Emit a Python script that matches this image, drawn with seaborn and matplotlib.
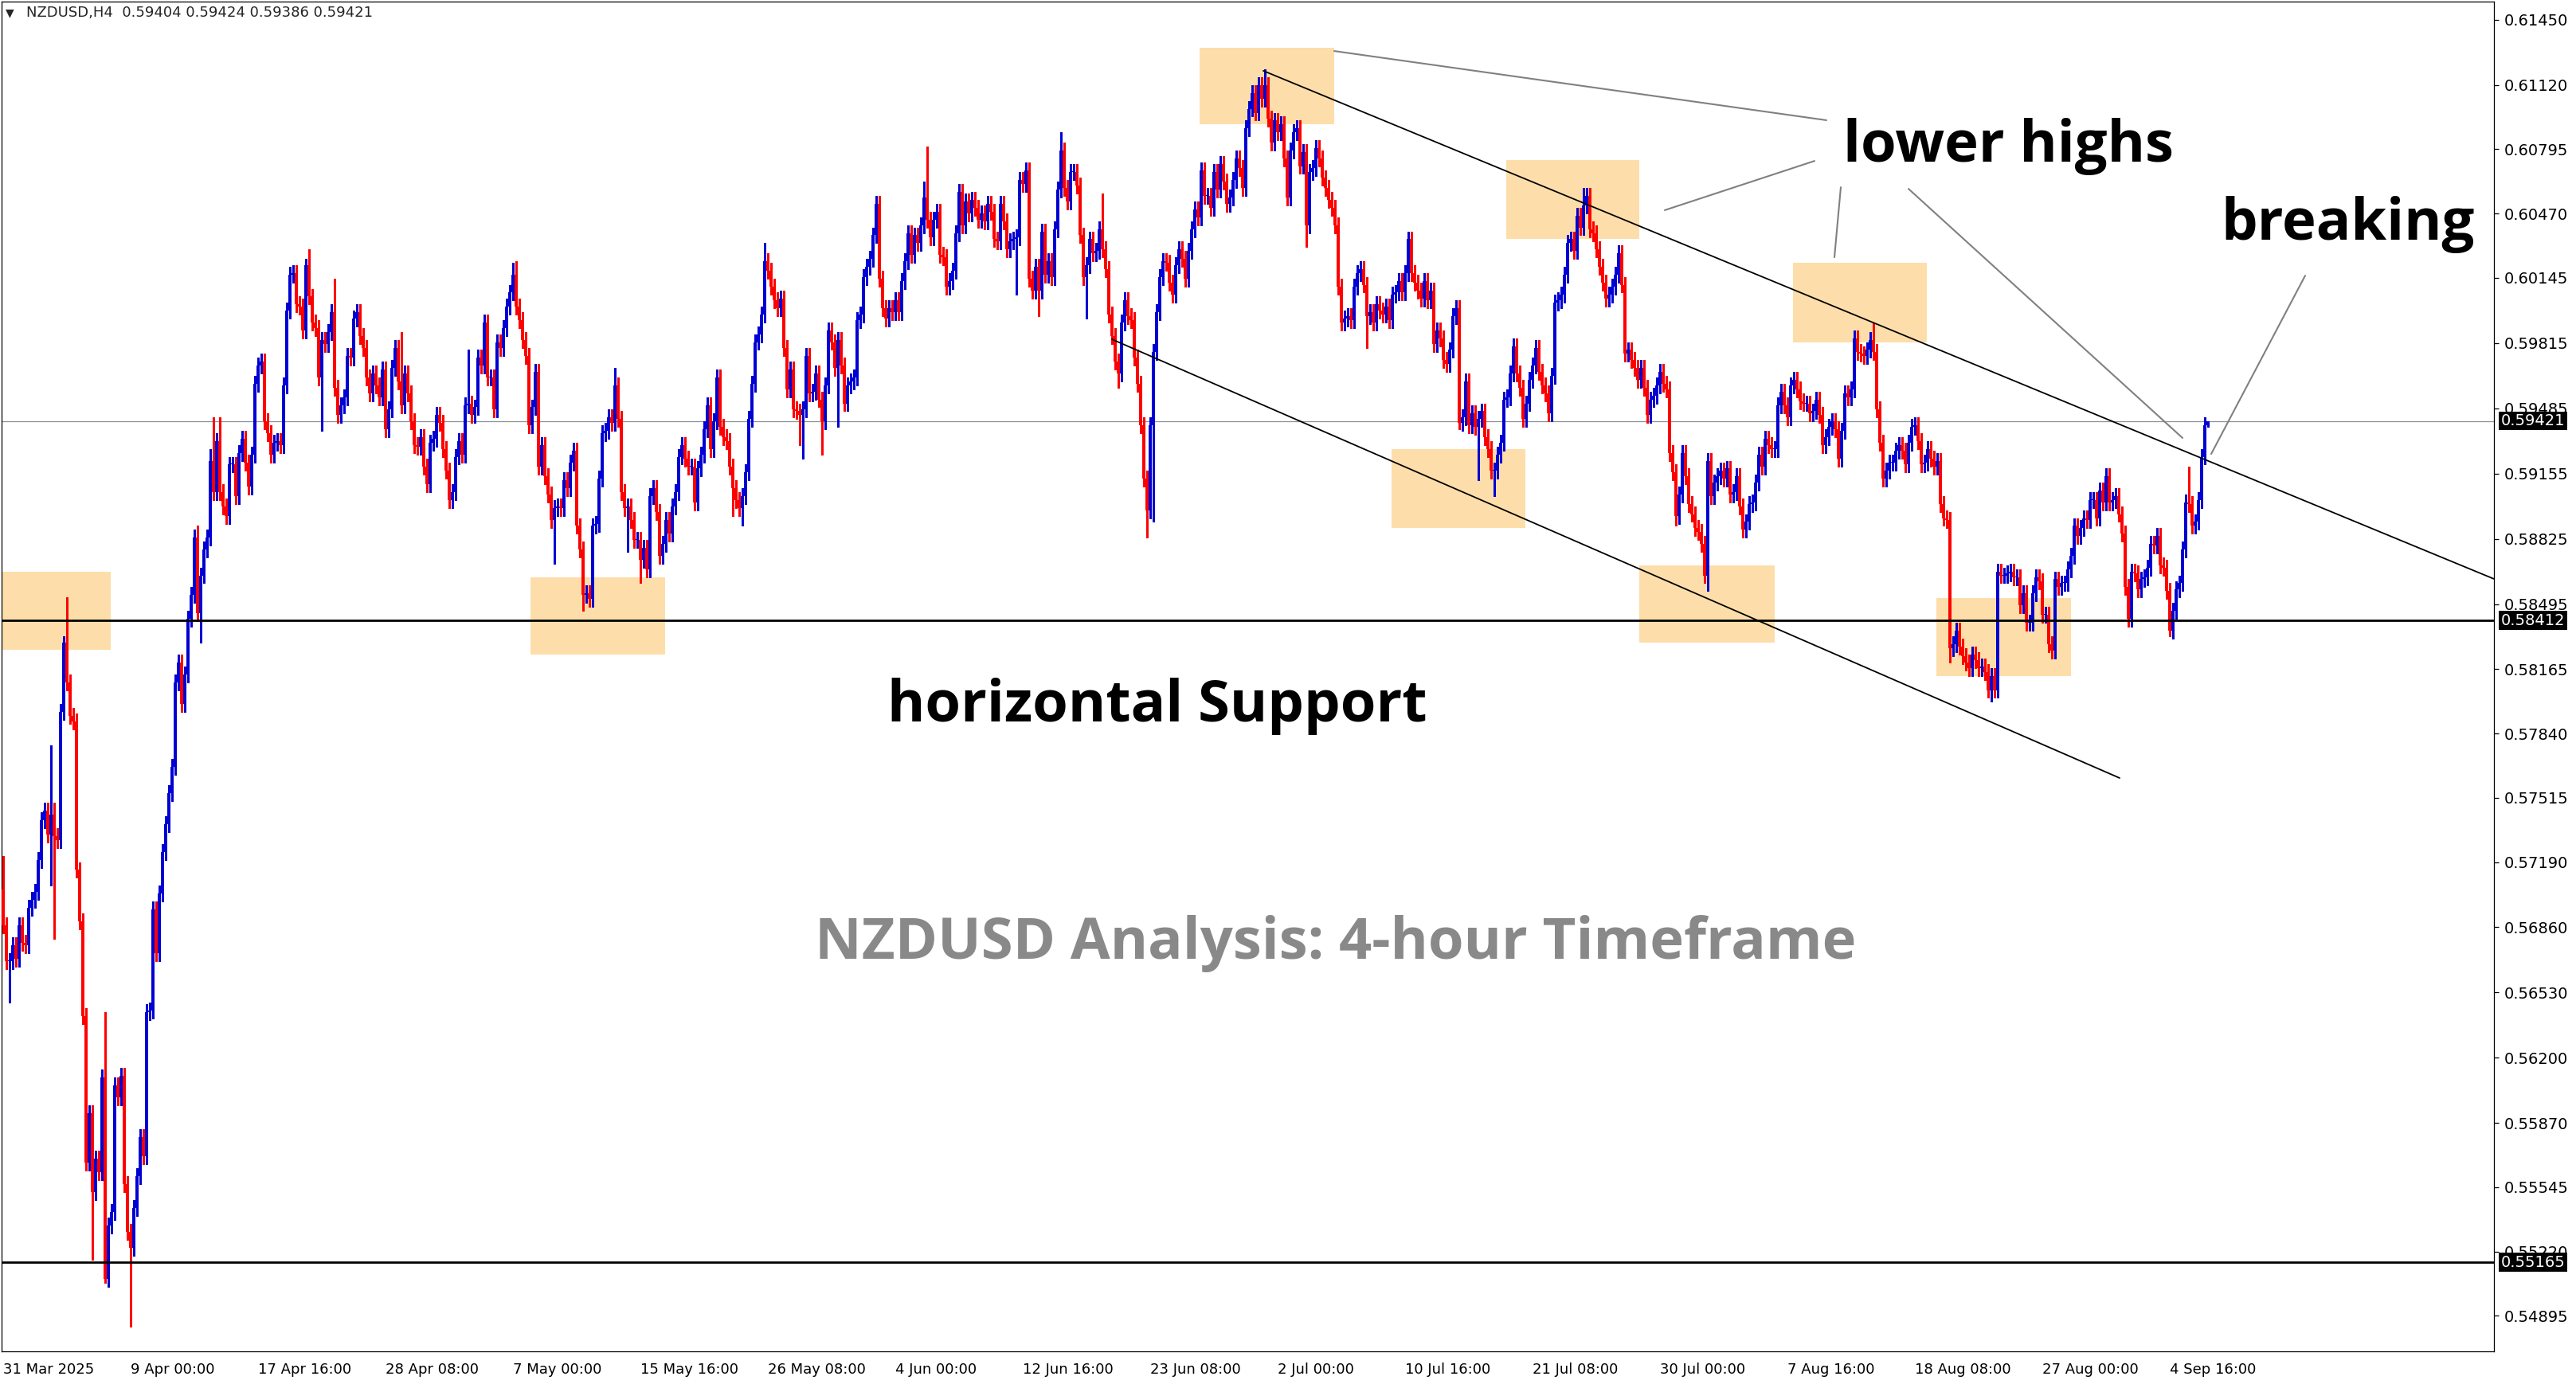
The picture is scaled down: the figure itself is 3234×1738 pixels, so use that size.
import numpy as np
import pandas as pd
import matplotlib
matplotlib.use("Agg")
from matplotlib import pyplot as plt
from matplotlib import transforms
import seaborn as sns

# NZDUSD H4 closes, in pips (0.0001), one per 4-hour bar
first_open = 5705
closes = [
    5687, 5669, 5669, 5677, 5670, 5687, 5678, 5677, 5696, 5700, 5704, 5720, 5740, 5745, 5733, 5743, 5732, 5730, 5795, 5830,
    5810, 5793, 5790, 5715, 5689, 5641, 5567, 5592, 5552, 5569, 5562, 5610, 5508, 5535, 5542, 5606, 5600, 5611, 5556, 5532,
    5524, 5544, 5560, 5580, 5570, 5643, 5644, 5695, 5673, 5703, 5724, 5738, 5754, 5767, 5810, 5820, 5799, 5814, 5842, 5854,
    5883, 5845, 5864, 5877, 5883, 5922, 5906, 5932, 5906, 5899, 5894, 5920, 5920, 5904, 5926, 5933, 5921, 5909, 5925, 5961,
    5970, 5972, 5942, 5936, 5925, 5931, 5932, 5930, 5960, 5998, 6016, 6017, 6001, 6000, 5988, 6021, 6005, 5992, 5989, 5964,
    5983, 5981, 5987, 5997, 5959, 5945, 5950, 5954, 5975, 5974, 5994, 5997, 5985, 5979, 5964, 5956, 5966, 5960, 5954, 5968,
    5938, 5948, 5969, 5979, 5962, 5950, 5966, 5956, 5942, 5930, 5929, 5934, 5919, 5910, 5931, 5933, 5945, 5941, 5928, 5917,
    5902, 5906, 5924, 5932, 5925, 5950, 5951, 5945, 5949, 5974, 5970, 5992, 5964, 5964, 5948, 5982, 5979, 5989, 6000, 6007,
    6016, 6000, 5993, 5983, 5975, 5940, 5949, 5967, 5919, 5930, 5914, 5905, 5892, 5898, 5899, 5898, 5912, 5908, 5921, 5927,
    5889, 5877, 5854, 5855, 5852, 5889, 5890, 5913, 5936, 5937, 5944, 5941, 5960, 5943, 5906, 5898, 5899, 5892, 5882, 5882,
    5872, 5878, 5867, 5904, 5908, 5896, 5874, 5880, 5892, 5885, 5899, 5906, 5924, 5930, 5923, 5919, 5919, 5901, 5918, 5925,
    5938, 5950, 5928, 5942, 5964, 5939, 5934, 5932, 5919, 5908, 5902, 5898, 5904, 5916, 5943, 5961, 5982, 5986, 5996, 6023,
    6018, 6010, 6003, 5999, 6004, 5979, 5958, 5968, 5948, 5947, 5945, 5948, 5975, 5956, 5957, 5966, 5953, 5942, 5960, 5988,
    5982, 5969, 5983, 5970, 5951, 5960, 5962, 5964, 5993, 5996, 6015, 6020, 6024, 6036, 6052, 6014, 5999, 5994, 5999, 5997,
    6003, 5997, 6013, 6023, 6037, 6026, 6036, 6032, 6041, 6055, 6044, 6035, 6044, 6048, 6026, 6025, 6010, 6013, 6018, 6037,
    6058, 6041, 6053, 6047, 6054, 6050, 6044, 6047, 6043, 6052, 6048, 6034, 6033, 6052, 6043, 6029, 6033, 6034, 6035, 6064,
    6062, 6069, 6014, 6008, 6020, 6008, 6038, 6016, 6023, 6015, 6039, 6059, 6079, 6060, 6053, 6068, 6068, 6061, 6036, 6015,
    6021, 6034, 6027, 6028, 6039, 6029, 6019, 5996, 5985, 5972, 5966, 5992, 6003, 5995, 5993, 5974, 5961, 5940, 5913, 5897,
    5940, 5977, 5997, 6015, 6023, 6022, 6012, 6006, 6021, 6029, 6024, 6014, 6028, 6039, 6049, 6045, 6069, 6056, 6056, 6050,
    6068, 6059, 6072, 6063, 6052, 6055, 6064, 6075, 6070, 6060, 6090, 6100, 6108, 6098, 6112, 6105, 6112, 6095, 6083, 6094,
    6088, 6092, 6075, 6055, 6079, 6088, 6090, 6071, 6078, 6041, 6068, 6070, 6080, 6075, 6065, 6060, 6054, 6050, 6041, 6010,
    5992, 5994, 5995, 5993, 6010, 6017, 6019, 6011, 5995, 5997, 5992, 6001, 5998, 5996, 6000, 5993, 6006, 6007, 6013, 6007,
    6017, 6034, 6017, 6012, 6008, 6004, 6013, 6003, 6008, 5981, 5988, 5984, 5973, 5971, 5978, 5995, 5999, 5941, 5944, 5962,
    5940, 5946, 5939, 5943, 5947, 5934, 5928, 5917, 5917, 5925, 5931, 5953, 5954, 5966, 5980, 5966, 5959, 5943, 5951, 5963,
    5970, 5979, 5967, 5960, 5956, 5946, 5965, 6002, 6003, 6006, 6016, 6032, 6034, 6028, 6046, 6040, 6051, 6056, 6039, 6037,
    6029, 6020, 6012, 6004, 6006, 6010, 6016, 6027, 6011, 5976, 5978, 5973, 5969, 5963, 5969, 5959, 5945, 5953, 5955, 5960,
    5967, 5961, 5958, 5926, 5916, 5894, 5905, 5926, 5914, 5900, 5895, 5888, 5886, 5880, 5864, 5922, 5904, 5911, 5914, 5917,
    5913, 5918, 5905, 5906, 5914, 5899, 5887, 5891, 5900, 5901, 5911, 5925, 5919, 5933, 5930, 5928, 5928, 5950, 5957, 5950,
    5944, 5960, 5963, 5958, 5952, 5951, 5951, 5946, 5947, 5953, 5945, 5930, 5934, 5939, 5942, 5938, 5923, 5937, 5956, 5954,
    5958, 5984, 5977, 5976, 5975, 5978, 5983, 5977, 5948, 5931, 5913, 5917, 5921, 5921, 5927, 5930, 5927, 5920, 5931, 5939,
    5940, 5932, 5920, 5921, 5928, 5923, 5919, 5922, 5900, 5893, 5892, 5827, 5829, 5836, 5828, 5823, 5820, 5817, 5824, 5821,
    5817, 5818, 5815, 5806, 5813, 5806, 5866, 5864, 5864, 5865, 5866, 5863, 5863, 5849, 5855, 5840, 5840, 5855, 5863, 5861,
    5844, 5844, 5829, 5826, 5862, 5858, 5860, 5860, 5867, 5874, 5889, 5884, 5888, 5893, 5892, 5902, 5902, 5893, 5907, 5901,
    5914, 5901, 5902, 5904, 5895, 5885, 5858, 5842, 5866, 5865, 5857, 5862, 5863, 5868, 5880, 5879, 5884, 5869, 5868, 5856,
    5836, 5846, 5857, 5860, 5877, 5901, 5900, 5889, 5891, 5902, 5924, 5940, 5942,
]

# long wicks that could be read (bar index -> pips)
wick_highs = {0: 5722, 15: 5778, 16: 5749, 19: 5833, 20: 5853, 32: 5643, 61: 5889, 65: 5928,
              66: 5944, 68: 5944, 95: 6024, 96: 6029, 104: 6014, 125: 5987, 146: 5978, 160: 6022,
              161: 6023, 192: 5969, 239: 6032, 289: 6063, 290: 6081, 332: 6088, 345: 6057,
              396: 6120, 496: 6060, 587: 5992, 686: 5919, 692: 5942}
wick_lows = {2: 5648, 15: 5707, 16: 5680, 28: 5518, 32: 5506, 40: 5484, 62: 5830, 100: 5937,
             173: 5870, 182: 5846, 196: 5876, 200: 5860, 229: 5894, 232: 5889, 250: 5930,
             251: 5923, 257: 5925, 262: 5939, 318: 6006, 325: 5995, 340: 5994, 350: 5959,
             359: 5883, 361: 5891, 409: 6030, 428: 5979, 457: 5938, 463: 5912, 468: 5904,
             525: 5889, 535: 5856, 611: 5820, 624: 5800, 680: 5833, 692: 5939}

y_ticks = [0.61450, 0.61120, 0.60795, 0.60470, 0.60145, 0.59815, 0.59485, 0.59155, 0.58825,
           0.58495, 0.58165, 0.57840, 0.57515, 0.57190, 0.56860, 0.56530, 0.56200, 0.55870,
           0.55545, 0.55220, 0.54895]
x_tick_labels = ["31 Mar 2025", "9 Apr 00:00", "17 Apr 16:00", "28 Apr 08:00", "7 May 00:00",
                 "15 May 16:00", "26 May 08:00", "4 Jun 00:00", "12 Jun 16:00", "23 Jun 08:00",
                 "2 Jul 00:00", "10 Jul 16:00", "21 Jul 08:00", "30 Jul 00:00", "7 Aug 16:00",
                 "18 Aug 08:00", "27 Aug 00:00", "4 Sep 16:00"]
x_tick_bars = [0, 40, 80, 120, 160, 200, 240, 280, 320, 360, 400, 440, 480, 520, 560, 600, 640, 680]

support_levels = [0.58412, 0.55165]
last_price = 0.59421

# trend lines: (bar, price) end points
upper_trend_x = [395.5, 781.75]
upper_trend_y = [0.61192, 0.58622]
lower_trend_x = [348, 664.25]
lower_trend_y = [0.59834, 0.57615]

# highlighted swing zones: bar from, bar to, price low, price high
zone_x0 = [-0.3, 165.5, 375.5, 471.75, 435.75, 561.75, 513.5, 606.75]
zone_x1 = [33.7, 207.75, 417.75, 513.5, 477.75, 603.75, 556, 649]
zone_lo = [0.58265, 0.58240, 0.60920, 0.60340, 0.58880, 0.59820, 0.58300, 0.58130]
zone_hi = [0.58660, 0.58630, 0.61310, 0.60740, 0.59280, 0.60220, 0.58690, 0.58525]

# grey pointer lines from the labels
pointer_x = [(417.75, 572.25), (521.5, 568.5), (576.75, 574.75), (598, 684), (722.5, 693)]
pointer_y = [(0.61292, 0.60942), (0.60487, 0.60736), (0.60603, 0.60249), (0.60595, 0.59335),
             (0.60156, 0.59254)]

# ---- candle table
close = np.array(closes) / 10000
open_ = np.r_[first_open / 10000, close[:-1]]
pad = 0.0004
high = np.maximum(open_, close) + pad
low = np.minimum(open_, close) - pad
for b, v in wick_highs.items():
    high[b] = max(v / 10000, open_[b], close[b])
for b, v in wick_lows.items():
    low[b] = min(v / 10000, open_[b], close[b])
df = pd.DataFrame({"bar": np.arange(len(close)), "open": open_, "close": close,
                   "high": high, "low": low})
df["color"] = np.where(df.close >= df.open, "#0000D2", "#FF0000")

sns.set_style("white")
plt.rcParams["font.family"] = ["DejaVu Sans"]

W, H = 3234, 1738
fig = plt.figure(figsize=(W / 100, H / 100), dpi=100)
ax = fig.add_axes([2 / W, 1 - 1697 / H, 3129 / W, 1695 / H])

for x0, x1, lo, hi in zip(zone_x0, zone_x1, zone_lo, zone_hi):
    ax.fill_between([x0, x1], lo, hi, color="#FDDEAA", lw=0, zorder=1)

ax.axhline(last_price, color="#8A9099", lw=0.9, zorder=2)
for lvl in support_levels:
    ax.axhline(lvl, color="black", lw=2.0, zorder=4)

ax.vlines(df.bar, df.low, df.high, colors=df.color, lw=1.0, zorder=3, antialiased=False)
body = np.maximum((df.close - df.open).abs(), 0.00004)
ax.bar(df.bar, body, bottom=np.minimum(df.open, df.close), width=0.76,
       color=df.color, linewidth=0, zorder=3, antialiased=False)

sns.lineplot(x=upper_trend_x, y=upper_trend_y, ax=ax, color="black", lw=1.3, zorder=5)
sns.lineplot(x=lower_trend_x, y=lower_trend_y, ax=ax, color="black", lw=1.3, zorder=5)
for px, py in zip(pointer_x, pointer_y):
    ax.plot(px, py, color="#808080", lw=1.5, zorder=5)

ax.set_xlim(-0.5, 781.75)
ax.set_ylim(0.547150, 0.615420)

for s in ax.spines.values():
    s.set_visible(True)
    s.set_color("black")
    s.set_linewidth(0.9)

ax.yaxis.tick_right()
ax.set_yticks(y_ticks)
ax.set_yticklabels([f"{v:.5f}" for v in y_ticks], fontsize=14)
ax.set_xticks(x_tick_bars)
ax.set_xticklabels(x_tick_labels, fontsize=13, ha="left")
ax.tick_params(axis="both", direction="out", length=4, width=0.9, color="black",
               labelcolor="black", pad=5)
ax.tick_params(axis="x", pad=6)
ax.grid(False)

# price markers on the right scale
trans = transforms.blended_transform_factory(ax.transAxes, ax.transData)
for v in [last_price] + support_levels:
    ax.text(1.0028, v, f"{v:.5f}", transform=trans, fontsize=14, color="white",
            va="center", ha="left", clip_on=False, zorder=10,
            bbox=dict(boxstyle="square,pad=0.12", fc="black", ec="none"))

fig.text(0.0020, 0.9908, "\u25bc", fontsize=10, va="center", ha="left")
fig.text(0.0102, 0.9908, "NZDUSD,H4  0.59404 0.59424 0.59386 0.59421", fontsize=13,
         va="center", ha="left")

big = dict(family=["Open Sans", "DejaVu Sans"], fontweight="bold", fontsize=52,
           ha="center", va="center")
fig.text(0.7798, 0.8941, "lower highs", color="black", **big)
fig.text(0.9113, 0.8377, "breaking", color="black", **big)
fig.text(0.4493, 0.4896, "horizontal Support", color="black", **big)
fig.text(0.5186, 0.3182, "NZDUSD Analysis: 4-hour Timeframe", color="#898989", **big)

fig.savefig("out.png", dpi=100, facecolor="white")
